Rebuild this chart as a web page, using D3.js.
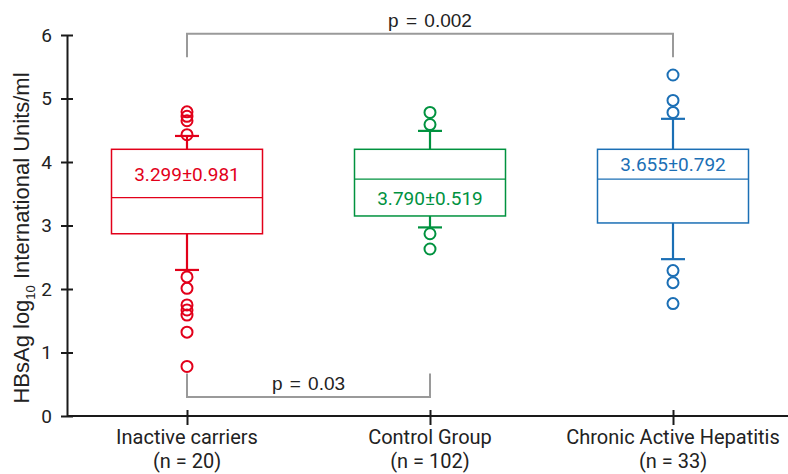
<!DOCTYPE html>
<html><head><meta charset="utf-8">
<script src="https://cdn.jsdelivr.net/npm/d3@7"></script>
<style>
html,body{margin:0;padding:0;background:#fff;}
svg{display:block;}
</style></head>
<body>
<svg id="chart" width="788" height="474"></svg>
<script>
const categories = ["Inactive carriers", "Control Group", "Chronic Active Hepatitis"];
const nLabels = ["(n = 20)", "(n = 102)", "(n = 33)"];
const q1 = [2.87, 3.15, 3.04];
const medians = [3.44, 3.73, 3.73];
const q3 = [4.20, 4.20, 4.20];
const whiskerLow = [2.30, 2.97, 2.47];
const whiskerHigh = [4.41, 4.49, 4.68];
const outliers = [
  [4.79, 4.72, 4.65, 4.43, 2.19, 2.01, 1.75, 1.67, 1.59, 1.32, 0.78],
  [4.78, 4.59, 2.87, 2.63],
  [5.37, 4.97, 4.78, 2.29, 2.10, 1.77]
];
const meanSdLabels = ["3.299±0.981", "3.790±0.519", "3.655±0.792"];
const labelHalf = ["upper", "lower", "upper"];
const colors = ["#e2001a", "#00923f", "#1b6fb5"];
const yTicks = [0, 1, 2, 3, 4, 5, 6];
const brackets = [
  {from: 0, to: 2, level: 6.02, tip: 5.65, label: "p = 0.002"},
  {from: 0, to: 1, level: 0.30, tip: 0.67, label: "p = 0.03"}
];

const svg = d3.select("#chart");
const y = d3.scaleLinear().domain([0, 6]).range([416, 35]);
const x = d3.scalePoint().domain(categories).range([187, 673]);
const boxW = 151, capW = 24;
const font = "Roboto, 'Liberation Sans', Arial, sans-serif";

// Y axis
const yAxis = svg.append("g").attr("transform", "translate(67,0)")
  .call(d3.axisLeft(y).tickValues(yTicks).tickFormat(d3.format("d")).tickSize(6).tickPadding(9).tickSizeOuter(0));
yAxis.select(".domain").attr("stroke", "#1a1a1a").attr("stroke-width", 2);
yAxis.selectAll(".tick line").attr("stroke", "#1a1a1a").attr("stroke-width", 2).attr("x1", -6).attr("x2", 6);
yAxis.selectAll(".tick text").attr("font-family", font).attr("font-size", 19).attr("fill", "#222");

// X axis
const xAxis = svg.append("g").attr("transform", "translate(0,416)")
  .call(d3.axisBottom(x).tickSize(9).tickSizeOuter(0).tickFormat(""));
xAxis.select(".domain").attr("d", "M67,0H788").attr("stroke", "#1a1a1a").attr("stroke-width", 2);
xAxis.selectAll(".tick line").attr("stroke", "#1a1a1a").attr("stroke-width", 2).attr("y1", -6).attr("y2", 9);

categories.forEach((c, i) => {
  [[c, 444], [nLabels[i], 468]].forEach(([s, yy]) => {
    svg.append("text").attr("x", x(c)).attr("y", yy)
      .attr("text-anchor", "middle").attr("font-family", font).attr("font-size", 20)
      .attr("fill", "#222").text(s);
  });
});

// Y title
const yt = svg.append("text").attr("transform", "translate(29,238) rotate(-90)")
  .attr("text-anchor", "middle").attr("font-family", "'Liberation Sans', Arial, sans-serif")
  .attr("font-size", 22).attr("fill", "#222");
yt.append("tspan").text("HBsAg log");
yt.append("tspan").attr("font-size", 13).attr("dy", 6).text("10");
yt.append("tspan").attr("dy", -6).text(" International Units/ml");

// Boxes
categories.forEach((c, i) => {
  const cx = x(c), col = colors[i];
  const g = svg.append("g");
  g.append("line").attr("x1", cx).attr("x2", cx).attr("y1", y(q3[i])).attr("y2", y(whiskerHigh[i]))
    .attr("stroke", col).attr("stroke-width", 2.2);
  g.append("line").attr("x1", cx).attr("x2", cx).attr("y1", y(q1[i])).attr("y2", y(whiskerLow[i]))
    .attr("stroke", col).attr("stroke-width", 2.2);
  [whiskerHigh[i], whiskerLow[i]].forEach(v => {
    g.append("line").attr("x1", cx - capW / 2).attr("x2", cx + capW / 2).attr("y1", y(v)).attr("y2", y(v))
      .attr("stroke", col).attr("stroke-width", 2.2);
  });
  g.append("rect").attr("x", cx - boxW / 2).attr("y", y(q3[i])).attr("width", boxW)
    .attr("height", y(q1[i]) - y(q3[i])).attr("fill", "#fff").attr("stroke", col).attr("stroke-width", 1.5);
  g.append("line").attr("x1", cx - boxW / 2).attr("x2", cx + boxW / 2).attr("y1", y(medians[i])).attr("y2", y(medians[i]))
    .attr("stroke", col).attr("stroke-width", 1.3);
  const ly = labelHalf[i] === "upper" ? (y(q3[i]) + y(medians[i])) / 2 : (y(medians[i]) + y(q1[i])) / 2;
  g.append("text").attr("x", cx).attr("y", ly).attr("dy", "0.38em").attr("text-anchor", "middle")
    .attr("font-family", font).attr("font-size", 19).attr("fill", col).text(meanSdLabels[i]);
  g.selectAll("circle").data(outliers[i]).join("circle")
    .attr("cx", cx).attr("cy", d => y(d)).attr("r", 5.5)
    .attr("fill", "none").attr("stroke", col).attr("stroke-width", 2);
});

// Significance brackets
brackets.forEach(b => {
  const x1 = x(categories[b.from]), x2 = x(categories[b.to]);
  svg.append("path")
    .attr("d", `M${x1},${y(b.tip)}V${y(b.level)}H${x2}V${y(b.tip)}`)
    .attr("fill", "none").attr("stroke", "#9a9a9a").attr("stroke-width", 2);
  svg.append("text").attr("x", (x1 + x2) / 2).attr("y", y(b.level) - 7).attr("text-anchor", "middle")
    .attr("font-family", "'Liberation Sans', Arial, sans-serif").attr("font-size", 19)
    .attr("word-spacing", 2).attr("fill", "#222")
    .text(b.label);
});
</script>
</body></html>
